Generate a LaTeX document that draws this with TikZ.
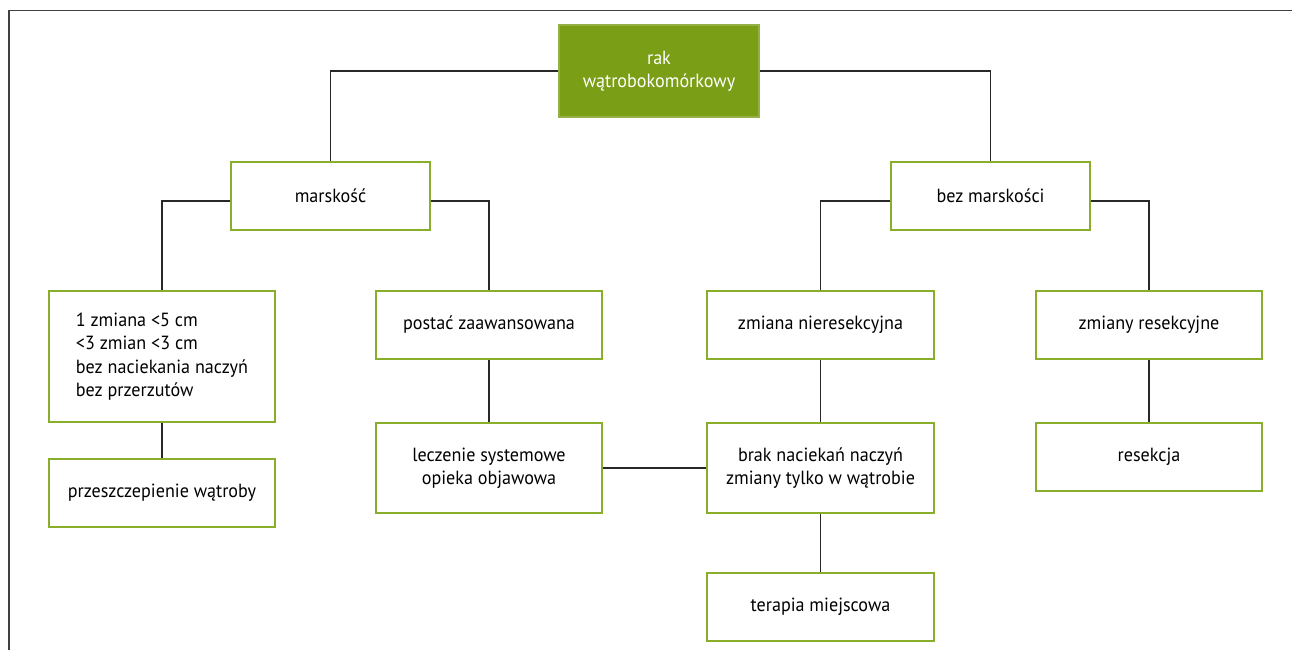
\documentclass[tikz,border=0pt]{standalone}
\usepackage{fontspec}
\setmainfont[FakeStretch=0.95]{PT Sans}
\usepackage{xcolor}
\usetikzlibrary{positioning}

\definecolor{boxgreen}{RGB}{137,174,44}
\definecolor{topgreen}{RGB}{122,158,22}
\definecolor{linedark}{RGB}{40,40,40}
\newcommand{\chartfont}{\fontsize{14.3pt}{17.5pt}\selectfont}

\begin{document}
\begin{tikzpicture}[x=0.75pt, y=-0.75pt,
  box/.style={draw=boxgreen, line width=1.3pt, fill=white, inner sep=0pt,
    minimum width=170pt, minimum height=51pt, align=center, font=\chartfont},
  conn/.style={draw=linedark, line width=1.1pt}]
  \useasboundingbox (0,0) rectangle (1292,650);

  % Frame
  \draw[black!75, line width=1.3pt] (9,650) -- (9,10.5) -- (1292,10.5);

  % Top level
  \node[box, fill=topgreen, draw=topgreen!80!white, text=white, minimum width=150pt, minimum height=69pt] (rak) at (659,71) {rak\\wątrobokomórkowy};

  % Second level
  \node[box, minimum width=149pt] (mars) at (330.5,196) {marskość};
  \node[box, minimum width=149pt] (bezmars) at (990.5,196) {bez marskości};

  % Third level
  \node[box, align=left, minimum height=98pt] (kryt) at (162,356.5) {1 zmiana <5 cm\\<3 zmian <3 cm\\bez naciekania naczyń\\bez przerzutów};
  \node[box] (zaaw) at (489,325) {postać zaawansowana};
  \node[box] (nieres) at (820.5,325) {zmiana nieresekcyjna};
  \node[box] (resek) at (1149,325) {zmiany resekcyjne};

  % Fourth level
  \node[box] (przesz) at (162,493) {przeszczepienie wątroby};
  \node[box, minimum height=67pt] (leczsys) at (489,468) {leczenie systemowe\\opieka objawowa};
  \node[box, minimum height=67pt] (brak) at (820.5,468) {brak nacieka\'n naczyń\\zmiany tylko w wątrobie};
  \node[box] (resekcja) at (1149,457) {resekcja};

  % Fifth level
  \node[box] (terapia) at (820.5,607) {terapia miejscowa};

  % Connectors
  \draw[conn] (rak.west) -| (mars.north);
  \draw[conn] (rak.east) -| (bezmars.north);
  \draw[conn] ([yshift=-3.75pt]mars.west) -| (kryt.north);
  \draw[conn] ([yshift=-3.75pt]mars.east) -| (zaaw.north);
  \draw[conn] ([yshift=-3.75pt]bezmars.west) -| (nieres.north);
  \draw[conn] ([yshift=-3.75pt]bezmars.east) -| (resek.north);
  \draw[conn] (kryt) -- (przesz);
  \draw[conn] (zaaw) -- (leczsys);
  \draw[conn] (nieres) -- (brak);
  \draw[conn] (resek) -- (resekcja);
  \draw[conn] (brak) -- (terapia);
  \draw[conn] (leczsys) -- (brak);
\end{tikzpicture}
\end{document}
